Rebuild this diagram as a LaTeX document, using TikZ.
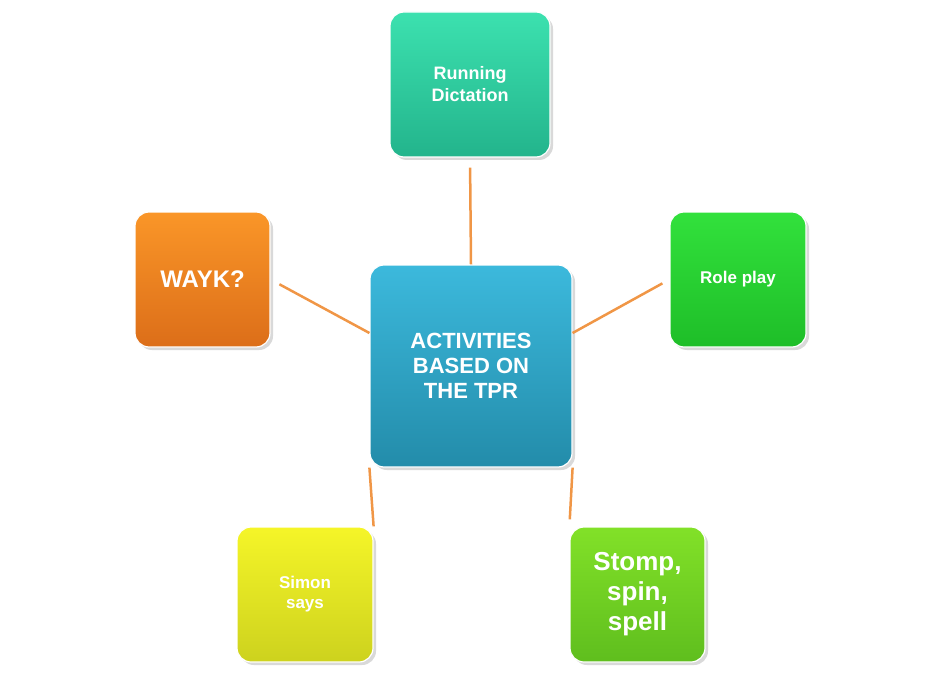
\documentclass[tikz,border=0pt]{standalone}
\usepackage{fontspec}
\setmainfont{Liberation Sans}
\usetikzlibrary{shadows}
\begin{document}
\begin{tikzpicture}[x=1pt,y=-1pt,
  box/.style={rounded corners=14pt,draw=white,line width=1.2pt,align=center,
    font=\bfseries,text=white,inner sep=0pt,
    drop shadow={shadow xshift=3pt,shadow yshift=-3pt,opacity=0.3}},
  link/.style={draw={rgb,255:red,240;green,150;blue,70},line width=2.5pt}]
\useasboundingbox (0,0) rectangle (940,674);
\node[box,minimum width=202pt,minimum height=202pt,top color={rgb,255:red,60;green,185;blue,220},bottom color={rgb,255:red,35;green,140;blue,170},font=\bfseries\fontsize{22}{25}\selectfont] (c) at (471,366) {ACTIVITIES\\BASED ON\\THE TPR};
\node[box,minimum width=160pt,minimum height=145pt,top color={rgb,255:red,60;green,225;blue,175},bottom color={rgb,255:red,35;green,180;blue,140},font=\bfseries\fontsize{18}{22}\selectfont] (t) at (470,84.5) {Running\\Dictation};
\node[box,minimum width=136pt,minimum height=135pt,top color={rgb,255:red,50;green,225;blue,60},bottom color={rgb,255:red,30;green,190;blue,40},font=\bfseries\fontsize{17}{20}\selectfont] (r) at (738,279.5) {Role play};
\node[box,minimum width=135pt,minimum height=135pt,top color={rgb,255:red,250;green,150;blue,40},bottom color={rgb,255:red,220;green,110;blue,25},font=\bfseries\fontsize{24}{28}\selectfont] (l) at (202.5,279.5) {WAYK?};
\node[box,minimum width=136pt,minimum height=135pt,top color={rgb,255:red,245;green,245;blue,40},bottom color={rgb,255:red,205;green,210;blue,30},font=\bfseries\fontsize{17}{20}\selectfont] (bl) at (305,594.5) {Simon\\says};
\node[box,minimum width=135pt,minimum height=135pt,top color={rgb,255:red,130;green,225;blue,40},bottom color={rgb,255:red,95;green,190;blue,30},font=\bfseries\fontsize{26}{30}\selectfont] (br) at (637.5,594.5) {Stomp,\\spin,\\spell};
\draw[link,shorten <=10pt] (t.south) -- (c.north);
\draw[link,shorten <=8pt] (r.west) -- (c.east |- 0,333);
\draw[link,shorten <=10pt] (l.east) -- (c.west |- 0,333);
\draw[link,shorten <=7pt] (bl.north east) -- (c.south west) ++(0,0);
\draw[link,shorten >=7pt] (c.south east) -- (br.north west);
\end{tikzpicture}
\end{document}
